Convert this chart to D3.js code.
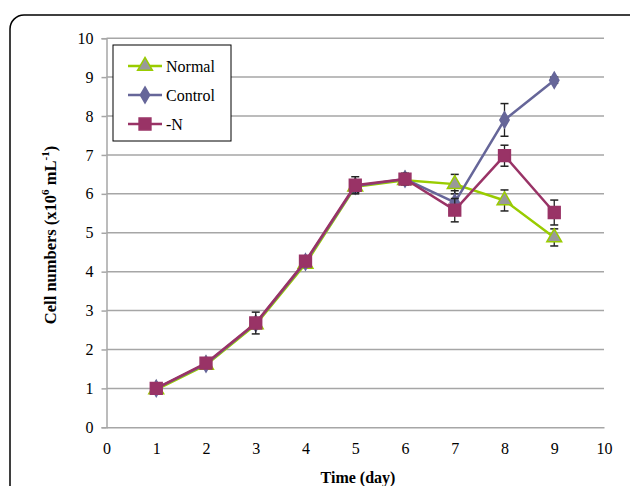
<!DOCTYPE html>
<html>
<head>
<meta charset="utf-8">
<script src="https://cdn.jsdelivr.net/npm/d3@7"></script>
<style>
  body { margin: 0; background: #fff; }
  svg { display: block; }
  svg text { font-family: 'Liberation Serif', 'Times New Roman', serif; }
</style>
</head>
<body>
<svg id="chart" width="630" height="486"></svg>
<script>
// Data
const days = [1, 2, 3, 4, 5, 6, 7, 8, 9];
const normalVals = [0.97, 1.6, 2.64, 4.2, 6.18, 6.35, 6.25, 5.83, 4.88];
const normalErr = [0.03, 0.05, 0.1, 0.1, 0.15, 0.1, 0.25, 0.27, 0.22];
const controlVals = [1.0, 1.63, 2.67, 4.25, 6.2, 6.38, 5.78, 7.9, 8.92];
const controlErr = [0.03, 0.05, 0.1, 0.1, 0.15, 0.1, 0.3, 0.42, 0.08];
const minusNVals = [1.0, 1.65, 2.68, 4.27, 6.22, 6.38, 5.58, 6.98, 5.52];
const minusNErr = [0.03, 0.05, 0.28, 0.12, 0.22, 0.15, 0.3, 0.27, 0.32];
const xTicks = [0, 1, 2, 3, 4, 5, 6, 7, 8, 9, 10];
const yTicks = [0, 1, 2, 3, 4, 5, 6, 7, 8, 9, 10];

const series = [
  { name: 'Normal', vals: normalVals, err: normalErr, line: '#99cc00', fill: '#999999', stroke: '#99cc00', shape: d3.symbolTriangle, size: 95 },
  { name: 'Control', vals: controlVals, err: controlErr, line: '#666699', fill: '#666699', stroke: '#666699', shape: d3.symbolDiamond, size: 75 },
  { name: '-N', vals: minusNVals, err: minusNErr, line: '#993366', fill: '#993366', stroke: '#993366', shape: d3.symbolSquare, size: 140 }
];

const svg = d3.select('#chart');

// outer rounded frame
svg.append('rect')
  .attr('x', 10).attr('y', 15)
  .attr('width', 640).attr('height', 520)
  .attr('rx', 14)
  .attr('fill', 'none')
  .attr('stroke', '#000')
  .attr('stroke-width', 1.5);

const x = d3.scaleLinear().domain([0, 10]).range([106.5, 604]);
const y = d3.scaleLinear().domain([0, 10]).range([427.3, 38.2]);

const g = svg.append('g');

// gridlines
g.selectAll('.grid')
  .data(yTicks.filter(d => d > 0))
  .enter().append('line')
  .attr('x1', x(0)).attr('x2', x(10))
  .attr('y1', d => y(d)).attr('y2', d => y(d))
  .attr('stroke', '#a6a6a6')
  .attr('stroke-width', 1.5);

// y axis
const yAxis = g.append('g')
  .attr('transform', `translate(${x(0)},0)`)
  .call(d3.axisLeft(y).tickValues(yTicks).tickSize(5).tickPadding(8));
yAxis.attr('font-family', null).attr('font-size', 16);
yAxis.select('.domain').attr('stroke', '#a6a6a6').attr('stroke-width', 1.5);
yAxis.selectAll('.tick line').attr('stroke', '#a6a6a6').attr('stroke-width', 1.5);
yAxis.selectAll('text').attr('fill', '#000');

// x axis
const xAxis = g.append('g')
  .attr('transform', `translate(0,${y(0)})`)
  .call(d3.axisBottom(x).tickValues(xTicks).tickSize(0).tickPadding(15));
xAxis.attr('font-family', null).attr('font-size', 16);
xAxis.select('.domain').attr('stroke', '#a6a6a6').attr('stroke-width', 1.5);
xAxis.selectAll('text').attr('fill', '#000');

// axis titles
svg.append('text')
  .attr('x', 358).attr('y', 483)
  .attr('text-anchor', 'middle')
  .attr('font-size', 16).attr('font-weight', 'bold')
  .text('Time (day)');

const yTitle = svg.append('text')
  .attr('transform', 'translate(56,235) rotate(-90)')
  .attr('text-anchor', 'middle')
  .attr('font-size', 16.5).attr('font-weight', 'bold');
yTitle.append('tspan').text('Cell numbers (x10');
yTitle.append('tspan').attr('dy', -7).attr('font-size', 11).text('6');
yTitle.append('tspan').attr('dy', 7).text(' mL');
yTitle.append('tspan').attr('dy', -7).attr('font-size', 11).text('-1');
yTitle.append('tspan').attr('dy', 7).text(')');

const line = d3.line().x((d, i) => x(days[i])).y(d => y(d));

series.forEach(s => {
  const sg = g.append('g');
  // error bars
  const eb = sg.selectAll('.err').data(s.vals).enter().append('g');
  eb.append('line')
    .attr('x1', (d, i) => x(days[i])).attr('x2', (d, i) => x(days[i]))
    .attr('y1', (d, i) => y(d + s.err[i])).attr('y2', (d, i) => y(d - s.err[i]))
    .attr('stroke', '#222').attr('stroke-width', 1.3);
  [1, -1].forEach(sign => {
    eb.append('line')
      .attr('x1', (d, i) => x(days[i]) - 4).attr('x2', (d, i) => x(days[i]) + 4)
      .attr('y1', (d, i) => y(d + sign * s.err[i])).attr('y2', (d, i) => y(d + sign * s.err[i]))
      .attr('stroke', '#222').attr('stroke-width', 1.5);
  });
  sg.append('path')
    .datum(s.vals)
    .attr('d', line)
    .attr('fill', 'none')
    .attr('stroke', s.line)
    .attr('stroke-width', 2.5);
  sg.selectAll('.mk').data(s.vals).enter().append('path')
    .attr('d', d3.symbol().type(s.shape).size(s.size))
    .attr('transform', (d, i) => `translate(${x(days[i])},${y(d)})`)
    .attr('fill', s.fill)
    .attr('stroke', s.stroke)
    .attr('stroke-width', 1.5);
});

// legend
const lg = svg.append('g');
lg.append('rect')
  .attr('x', 113).attr('y', 45)
  .attr('width', 118).attr('height', 96)
  .attr('fill', '#fff')
  .attr('stroke', '#000')
  .attr('stroke-width', 1);
series.forEach((s, i) => {
  const ly = 66 + i * 29;
  lg.append('line')
    .attr('x1', 128).attr('x2', 162)
    .attr('y1', ly).attr('y2', ly)
    .attr('stroke', s.line).attr('stroke-width', 2.5);
  lg.append('path')
    .attr('d', d3.symbol().type(s.shape).size(s.size))
    .attr('transform', `translate(145,${ly})`)
    .attr('fill', s.fill)
    .attr('stroke', s.stroke)
    .attr('stroke-width', 1.5);
  lg.append('text')
    .attr('x', 166).attr('y', ly + 5.5)
    .attr('font-size', 16)
    .text(s.name);
});
</script>
</body>
</html>
